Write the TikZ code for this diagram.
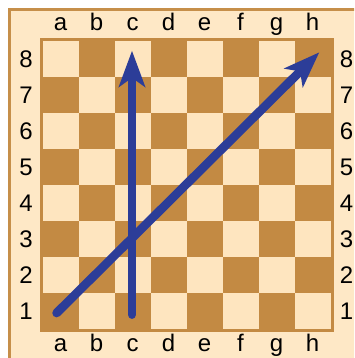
\documentclass[tikz,border=0pt]{standalone}
\usepackage{fontspec}
\setmainfont{Liberation Sans}
\usetikzlibrary{arrows.meta}
\definecolor{lightsq}{HTML}{FEE5BF}
\definecolor{darksq}{HTML}{C38A43}
\definecolor{framebg}{HTML}{FEE8C6}
\definecolor{frameline}{HTML}{C68F4A}
\definecolor{arrowblue}{HTML}{2C3D98}
\tikzset{
  lab/.style={inner sep=0pt, font=\fontsize{24}{28}\selectfont, text=black},
  movearrow/.style={draw=arrowblue, line width=8.7pt, line cap=round,
    -{Stealth[length=36pt, width=26pt, inset=9pt]}},
}
\begin{document}
\begin{tikzpicture}[x=1pt, y=-1pt]
\useasboundingbox (0,0) rectangle (354,358);
\clip (0,0) rectangle (354,358);
\fill[white] (0,0) rectangle (354,358);
% outer frame
\draw[fill=framebg, draw=frameline, line width=3pt] (9.5,9.5) rectangle (370,370);
% board border
\fill[darksq] (39.5,38.5) rectangle (334,332);
% squares
\foreach \i in {0,...,7}{
  \foreach \j in {0,...,7}{
    \pgfmathtruncatemacro{\sqpar}{mod(\i+\j,2)}
    \ifnum\sqpar=0
      \fill[lightsq] ({42.5+36*\i},{41+36*\j}) rectangle ++(36,36);
    \else
      \fill[darksq] ({42.5+36*\i},{41+36*\j}) rectangle ++(36,36);
    \fi
  }
}
% file labels
\foreach \f [count=\k from 0] in {a,b,c,d,e,f,g,h}{
  \node[lab, anchor=base] (top\f) at ({60.5+36*\k},31) {\f};
  \node[lab, anchor=base] (bot\f) at ({60.5+36*\k},351) {\f};
}
% rank labels
\foreach \r [count=\k from 0] in {8,7,6,5,4,3,2,1}{
  \node[lab] (left\r) at (26,{59+36*\k}) {\r};
  \node[lab] (right\r) at (346.5,{59+36*\k}) {\r};
}
% arrows
\coordinate (c1) at (132,314.6);
\coordinate (c8) at (132,50.7);
\coordinate (a1) at (56.6,313);
\coordinate (h8) at (319.3,52.3);
\draw[movearrow] (c1) -- (c8);
\draw[movearrow] (a1) -- (h8);
\end{tikzpicture}
\end{document}
